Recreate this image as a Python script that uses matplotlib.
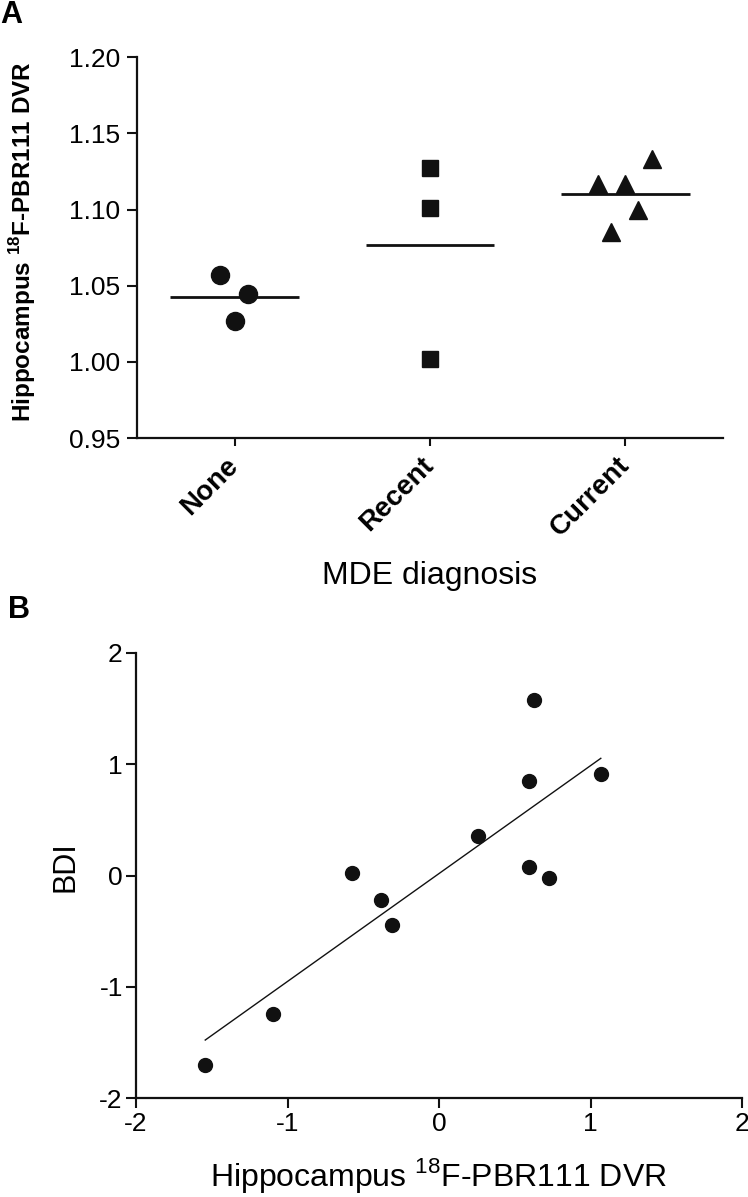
import numpy as np
import matplotlib
matplotlib.use('Agg')
import matplotlib.pyplot as plt
from matplotlib.ticker import FormatStrFormatter

plt.rcParams['font.family'] = ['Liberation Sans', 'DejaVu Sans']
plt.rcParams['mathtext.fontset'] = 'custom'
plt.rcParams['mathtext.rm'] = 'Liberation Sans'
plt.rcParams['mathtext.bf'] = 'Liberation Sans:bold'
plt.rcParams['axes.unicode_minus'] = False

INK = '#111111'

# --- panel A: DVR by MDE diagnosis ---
groups = ['None', 'Recent', 'Current']
none_dvr = [1.057, 1.0445, 1.027]
recent_dvr = [1.127, 1.101, 1.002]
current_dvr = [1.117, 1.117, 1.133, 1.100, 1.085]
# horizontal scatter of the points inside each group
none_jit = [-0.073, 0.066, 0.0]
recent_jit = [0.0, 0.0, 0.0]
current_jit = [-0.142, 0.0, 0.134, 0.066, -0.073]

# --- panel B: BDI vs DVR (z-scores) ---
dvr_z = [-1.543, -1.099, -0.576, -0.381, -0.312, 0.255, 0.627, 0.595, 0.595, 0.728, 1.068]
bdi_z = [-1.70, -1.243, 0.019, -0.221, -0.447, 0.351, 1.582, 0.845, 0.077, -0.026, 0.913]

W, H = 748, 1197
fig = plt.figure(figsize=(W / 100, H / 100), dpi=100)

axA = fig.add_axes([137 / W, 1 - 438 / H, (723 - 137) / W, (438 - 57.3) / H])
axB = fig.add_axes([136 / W, 1 - 1098 / H, (742 - 136) / W, (1098 - 653) / H])

series = [(none_dvr, none_jit, 'o', 13),
          (recent_dvr, recent_jit, 's', 12),
          (current_dvr, current_jit, '^', 12.5)]
for i, (vals, jit, mk, ms) in enumerate(series):
    axA.plot(i + np.array(jit), vals, ls='none', marker=mk, ms=ms,
             color=INK, mec=INK, clip_on=False)
    axA.hlines(np.mean(vals), i - 0.33, i + 0.33, color=INK, lw=2)

axA.set_xlim(-0.5, 2.5)
axA.set_ylim(0.95, 1.20)
axA.set_yticks(np.arange(0.95, 1.2001, 0.05))
axA.yaxis.set_major_formatter(FormatStrFormatter('%.2f'))
axA.set_xticks(range(len(groups)))
axA.set_xticklabels(groups, rotation=45, ha='right', va='center',
                    rotation_mode='anchor', fontweight='bold', fontsize=20)
axA.tick_params(axis='x', length=6, width=1.5, pad=11, color=INK)
axA.tick_params(axis='y', length=7, width=1.5, pad=5, labelsize=19, color=INK)
axA.set_xlabel('MDE diagnosis', fontsize=23)
axA.xaxis.set_label_coords(0.5, -0.323)
axA.set_ylabel(r'Hippocampus $^{\mathbf{18}}$F-PBR111 DVR', fontsize=17.5,
               fontweight='bold')
axA.yaxis.set_label_coords(-0.169, 0.515)

# --- panel B ---
axB.plot(dvr_z, bdi_z, ls='none', marker='o', ms=10, color=INK, clip_on=False)
slope, icpt = np.polyfit(dvr_z, bdi_z, 1)
xs = np.array([min(dvr_z), max(dvr_z)])
axB.plot(xs, slope * xs + icpt, color=INK, lw=1)
axB.set_xlim(-2, 2)
axB.set_ylim(-2, 2)
axB.set_xticks([-2, -1, 0, 1, 2])
axB.set_yticks([-2, -1, 0, 1, 2])
axB.tick_params(axis='both', length=7, width=1.5, labelsize=19, color=INK)
axB.tick_params(axis='x', pad=3)
axB.tick_params(axis='y', pad=2.5)
axB.set_xlabel(r'Hippocampus $^{18}$F-PBR111 DVR', fontsize=23)
axB.xaxis.set_label_coords(0.5, -0.13)
axB.set_ylabel('BDI', fontsize=22)
axB.yaxis.set_label_coords(-0.091, 0.519)

for ax in (axA, axB):
    for s in ('top', 'right'):
        ax.spines[s].set_visible(False)
    for s in ('left', 'bottom'):
        ax.spines[s].set_linewidth(1.6)
        ax.spines[s].set_color(INK)

fig.text(0.0, 1.0, 'A', fontsize=22, fontweight='bold', va='top', ha='left')
fig.text(8 / W, 1 - 595 / H, 'B', fontsize=22, fontweight='bold', va='top', ha='left')

fig.savefig('out.png', dpi=100)
